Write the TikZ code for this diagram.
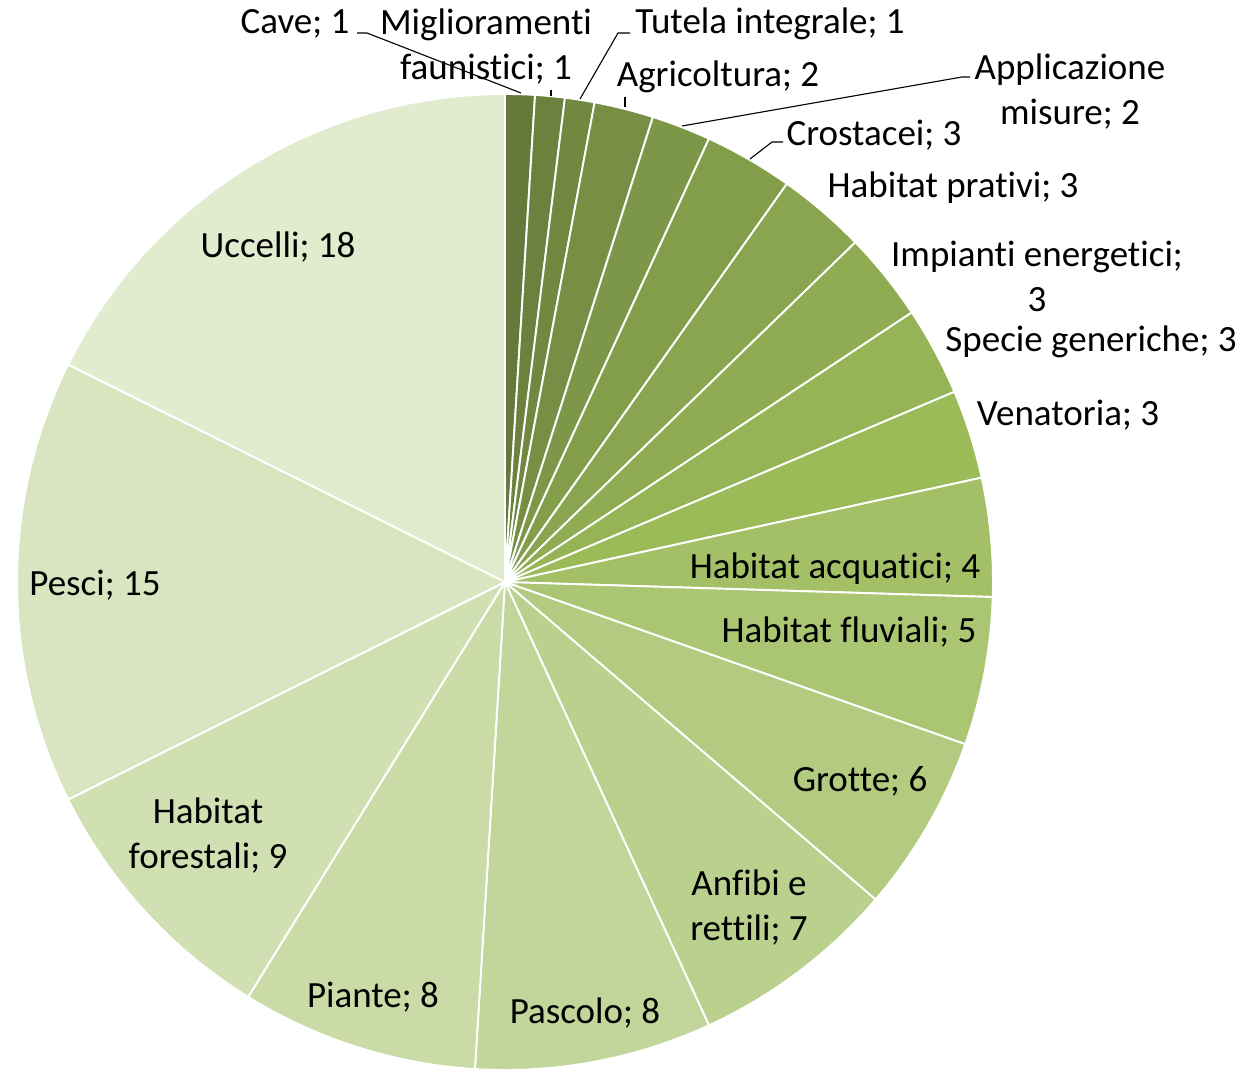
\documentclass[tikz,border=0pt]{standalone}
\usepackage{fontspec}
\setmainfont{Carlito}[Ligatures={NoCommon,NoContextual}]
\definecolor{acc}{RGB}{155,187,89}
\colorlet{s1}{acc!65!black}
\colorlet{s2}{acc!68.9!black}
\colorlet{s3}{acc!72.8!black}
\colorlet{s4}{acc!76.7!black}
\colorlet{s5}{acc!80.6!black}
\colorlet{s6}{acc!84.4!black}
\colorlet{s7}{acc!88.3!black}
\colorlet{s8}{acc!92.2!black}
\colorlet{s9}{acc!96.1!black}
\colorlet{s10}{acc}
\colorlet{s11}{acc!92.2!white}
\colorlet{s12}{acc!84.4!white}
\colorlet{s13}{acc!76.7!white}
\colorlet{s14}{acc!68.9!white}
\colorlet{s15}{acc!61.1!white}
\colorlet{s16}{acc!53.3!white}
\colorlet{s17}{acc!45.6!white}
\colorlet{s18}{acc!37.8!white}
\colorlet{s19}{acc!30!white}
\begin{document}
\begin{tikzpicture}[x=1bp,y=1bp,
  lbl/.style={inner sep=0pt, align=center, font=\fontsize{37bp}{45bp}\selectfont, text=black},
  leader/.style={draw=black, line width=1.1bp},
  slice/.style={draw=white, line width=1.9bp, line join=round}]
\useasboundingbox (0,0) rectangle (1256,-1072);
\coordinate (C) at (505,-582);
\foreach \s/\e/\c in {0/1/s1,1/2/s2,2/3/s3,3/5/s4,5/7/s5,7/10/s6,10/13/s7,13/16/s8,16/19/s9,19/22/s10,22/26/s11,26/31/s12,31/37/s13,37/44/s14,44/52/s15,52/60/s16,60/69/s17,69/84/s18,84/102/s19}{
  \pgfmathsetmacro{\aa}{90-\s*3.5294118}
  \pgfmathsetmacro{\bb}{90-\e*3.5294118}
  \fill[\c, slice] (C) -- ++(\aa:488bp) arc[start angle=\aa, end angle=\bb, radius=488bp] -- cycle;
}
% labels
\node[lbl] (cave) at (295,-24) {Cave; 1};
\node[lbl] (mig) at (486,-47) {Miglioramenti\\faunistici; 1};
\node[lbl] (tutela) at (770,-24) {Tutela integrale; 1};
\node[lbl] (agri) at (718,-77) {Agricoltura; 2};
\node[lbl] (appl) at (1070,-92) {Applicazione\\misure; 2};
\node[lbl] (crost) at (874,-135) {Crostacei; 3};
\node[lbl] (prativi) at (953,-188) {Habitat prativi; 3};
\node[lbl] (impianti) at (1037,-276) {Impianti energetici;\\3};
\node[lbl] (specie) at (1091,-342) {Specie generiche; 3};
\node[lbl] (venatoria) at (1068,-415) {Venatoria; 3};
\node[lbl] (acquatici) at (835,-569) {Habitat acquatici; 4};
\node[lbl] (fluviali) at (849,-632) {Habitat fluviali; 5};
\node[lbl] (grotte) at (860,-781) {Grotte; 6};
\node[lbl] (anfibi) at (749,-908) {Anfibi e\\rettili; 7};
\node[lbl] (pascolo) at (585,-1013) {Pascolo; 8};
\node[lbl] (piante) at (373,-997) {Piante; 8};
\node[lbl] (forestali) at (208,-836) {Habitat\\forestali; 9};
\node[lbl] (pesci) at (95,-585) {Pesci; 15};
\node[lbl] (uccelli) at (278,-247) {Uccelli; 18};
% leader lines
\coordinate (caveA) at (357,-33); \coordinate (caveB) at (367,-33); \coordinate (caveE) at (521,-93);
\coordinate (migA) at (551,-90); \coordinate (migE) at (551,-96);
\coordinate (tutA) at (630,-33); \coordinate (tutB) at (618,-33); \coordinate (tutE) at (580,-99);
\coordinate (agrA) at (625,-97); \coordinate (agrE) at (625,-107);
\coordinate (appA) at (970,-77); \coordinate (appB) at (962,-77); \coordinate (appE) at (682,-126);
\coordinate (croA) at (783,-142); \coordinate (croB) at (772,-142); \coordinate (croE) at (750,-159);
\draw[leader] (caveA) -- (caveB) -- (caveE);
\draw[leader] (migA) -- (migE);
\draw[leader] (tutA) -- (tutB) -- (tutE);
\draw[leader] (agrA) -- (agrE);
\draw[leader] (appA) -- (appB) -- (appE);
\draw[leader] (croA) -- (croB) -- (croE);
\end{tikzpicture}
\end{document}
